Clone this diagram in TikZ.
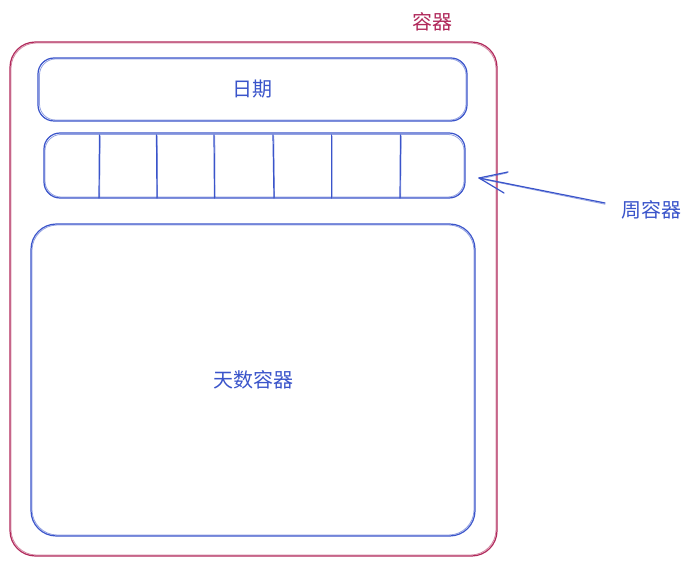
\documentclass[tikz,border=0pt]{standalone}
\usepackage{fontspec}
\newfontfamily\cjk{Noto Sans CJK SC}
\usetikzlibrary{calc}
\definecolor{framered}{HTML}{B0285A}
\definecolor{inkblue}{HTML}{3A54CA}
\tikzset{
  stroke/.style={line width=0.9pt, line cap=round, line join=round},
  ghost/.style={line width=0.6pt, opacity=0.55, line cap=round, line join=round},
  lbl/.style={font=\cjk\fontsize{15pt}{18pt}\selectfont, inner sep=0pt},
}
\begin{document}
\begin{tikzpicture}[x=0.75pt, y=-0.75pt]
\useasboundingbox (0,0) rectangle (691,566);

% outer container
\draw[stroke, framered, rounded corners=19pt] (10,42) rectangle (497,556);
\draw[ghost, framered, rounded corners=19pt] (11,43) rectangle (496,555);
\node[lbl, text=framered] (outerlbl) at (432,22) {容器};

% date bar
\draw[stroke, inkblue, rounded corners=12pt] (38,58) rectangle (467,121);
\draw[ghost, inkblue, rounded corners=12pt] (39.5,59) rectangle (466,120);
\node[lbl, text=inkblue] (datelbl) at (252,89) {日期};

% week bar with its seven cells
\draw[stroke, inkblue, rounded corners=12pt] (44,133) rectangle (465,198);
\draw[ghost, inkblue, rounded corners=12pt] (45,134.5) rectangle (464,197);
\foreach \xa/\xb in {99.5/99, 156.5/157, 214/214.5, 273/274, 331.5/331.5, 400.5/400}{
  \draw[stroke, inkblue] (\xa,135) -- (\xb,198);
  \draw[ghost, inkblue] (\xa+0.8,136) -- (\xb+0.6,197);
}

% day grid container
\draw[stroke, inkblue, rounded corners=19pt] (31,224) rectangle (475,536);
\draw[ghost, inkblue, rounded corners=19pt] (32,225) rectangle (474,535);
\node[lbl, text=inkblue] (dayslbl) at (253,380) {天数容器};

% pointer to the week bar
\node[lbl, text=inkblue] (weeklbl) at (651,210) {周容器};
\coordinate (tail) at (605,203);
\coordinate (tip) at (479,178);
\draw[stroke, inkblue] (tail) -- (tip);
\draw[ghost, inkblue] ($(tail)+(0,1.2)$) -- ($(tip)+(1,0.8)$);
\draw[stroke, inkblue] (tip) -- ++(29,-6);
\draw[stroke, inkblue] (tip) -- ++(25,15);
\draw[ghost, inkblue] ($(tip)+(1,1)$) -- ++(27,-6);
\end{tikzpicture}
\end{document}
